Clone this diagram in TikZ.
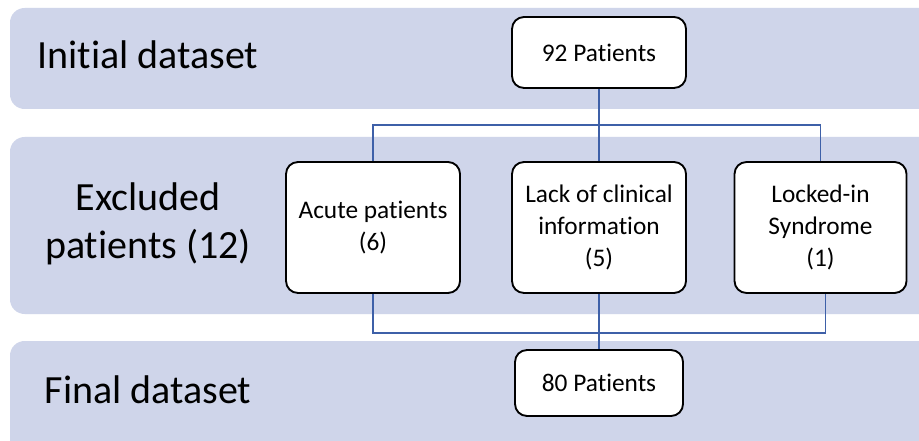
\documentclass[tikz,border=0pt]{standalone}
\usepackage{fontspec}
\setmainfont{Carlito}[Ligatures=NoCommon]
\usetikzlibrary{calc}
\definecolor{band}{RGB}{207,213,234}
\definecolor{linkc}{RGB}{62,96,168}
\tikzset{
  bandbox/.style={fill=band, draw=none, rounded corners=11pt},
  stagelabel/.style={font=\fontsize{30pt}{36pt}\selectfont, align=center, text=black},
  flowbox/.style={draw=black, line width=1.4pt, fill=white, rounded corners=9pt, align=center,
    font=\fontsize{19pt}{24pt}\selectfont, inner sep=0pt},
  conn/.style={draw=linkc, line width=1.3pt}
}
\begin{document}
\begin{tikzpicture}[x=0.75pt, y=-0.75pt]
\useasboundingbox (0,0) rectangle (919,441);
\clip (0,0) rectangle (919,441);
\fill[white] (0,0) rectangle (919,441);
% bands
\path[bandbox] (10,8) rectangle (940,109);
\path[bandbox] (10,137) rectangle (940,314);
\path[bandbox] (10,341) rectangle (940,470);
% stage labels
\node[stagelabel] (l1) at (148,55) {Initial dataset};
\node[stagelabel] (l2) at (148,224) {Excluded\\patients (12)};
\node[stagelabel] (l3) at (148,390) {Final dataset};
% boxes
\node[flowbox, minimum width=174*0.75pt, minimum height=71*0.75pt] (n92) at (599,52.5) {92 Patients};
\node[flowbox, minimum width=174*0.75pt, minimum height=131*0.75pt] (acute) at (373,227.5) {Acute patients\\(6)};
\node[flowbox, minimum width=174*0.75pt, minimum height=131*0.75pt] (lack) at (599,227.5) {Lack of clinical\\information\\(5)};
\node[flowbox, minimum width=172*0.75pt, minimum height=131*0.75pt] (locked) at (820.5,227.5) {Locked-in\\Syndrome\\(1)};
\node[flowbox, minimum width=168*0.75pt, minimum height=66*0.75pt] (n80) at (599,383) {80 Patients};
% connectors
\coordinate (tj) at (599,125);
\coordinate (bj) at (599,333);
\draw[conn] (n92.south) -- (tj);
\draw[conn] (acute.north) |- (tj) -| (locked.north);
\draw[conn] (tj) -- (lack.north);
\draw[conn] (acute.south) |- (bj) -| ($(locked.south)+(5,0)$);
\draw[conn] (lack.south) -- (n80.north);
\end{tikzpicture}
\end{document}
